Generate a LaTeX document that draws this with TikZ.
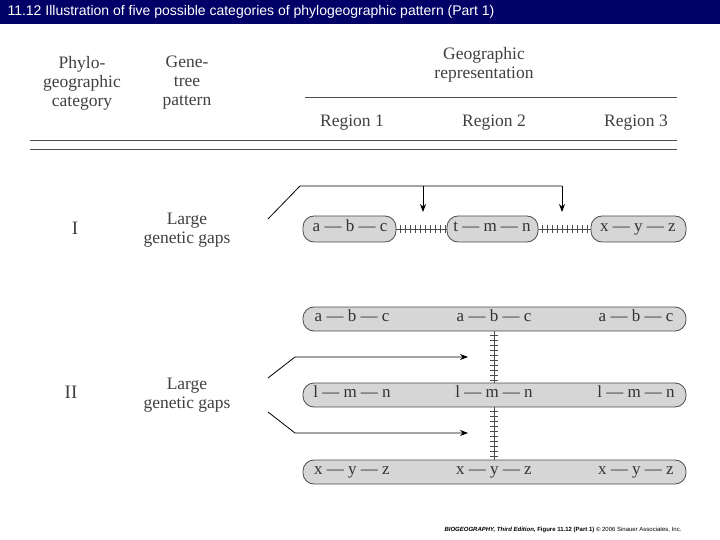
\documentclass[tikz,border=0pt]{standalone}
\usepackage{fontspec}
\setmainfont{Liberation Serif}
\newfontfamily\sansf{Liberation Sans}
\usetikzlibrary{arrows.meta}
\definecolor{navy}{HTML}{000066}
\definecolor{bub}{HTML}{D6D6D6}
\begin{document}
\begin{tikzpicture}[x=1pt,y=-1pt,
  hdr/.style={align=center,font=\fontsize{17.5}{19}\selectfont,text=black!75},
  lab/.style={font=\fontsize{17}{18}\selectfont,text=black!80,text height=1.5ex,text depth=.3ex},
  bubble/.style={draw=black!70,fill=bub,rounded corners=11pt,line width=0.8pt},
  arr/.style={line width=0.8pt,-{Stealth[length=8pt,width=6pt]}},
  ln/.style={line width=0.8pt}]
\useasboundingbox (0,0) rectangle (720,540);
\fill[navy] (0,0) rectangle (720,24);
\node[anchor=west,text=white,font=\sansf\fontsize{14}{15}\selectfont] (title) at (4,12) {11.12 Illustration of five possible categories of phylogeographic pattern (Part 1)};
\node[hdr] (h1) at (82,83) {Phylo-\\geographic\\category};
\node[hdr] (h2) at (187,83) {Gene-\\tree\\pattern};
\node[hdr] (h3) at (484,65) {Geographic\\representation};
\draw[ln,black!70] (305,97) -- (677,97);
\node[hdr] (r1) at (352,123) {Region 1};
\node[hdr] (r2) at (494,123) {Region 2};
\node[hdr] (r3) at (636,123) {Region 3};
\draw[ln,black!70] (30,140) -- (677,140);
\draw[ln,black!70] (30,149) -- (677,149);
% Row I
\node[hdr,font=\fontsize{19}{20}\selectfont] (c1) at (75,228) {I};
\node[hdr] (g1) at (187,230) {Large\\genetic gaps};
\draw[bubble] (303,216) rectangle (396,242);
\draw[bubble] (447,216) rectangle (538,242);
\draw[bubble] (591,216) rectangle (686,242);
\node[lab] (a1) at (350,229) {a — b — c};
\node[lab] (b1) at (492,229) {t — m — n};
\node[lab] (c1b) at (638,229) {x — y — z};
\draw[ln,black!70] (396,229) -- (447,229);
\foreach \x in {400,405,...,445} \draw[black!70] (\x,225) -- (\x,233);
\draw[ln,black!70] (538,229) -- (591,229);
\foreach \x in {542,547,...,589} \draw[black!70] (\x,225) -- (\x,233);
\coordinate (p0) at (268,219);
\coordinate (p1) at (300,186);
\coordinate (t1) at (423,212);
\coordinate (t2) at (562,212);
\draw[ln] (p0) -- (p1) -- (562,186);
\draw[arr] (423,186) -- (t1);
\draw[arr] (562,186) -- (t2);
% Row II
\node[hdr,font=\fontsize{19}{20}\selectfont] (c2) at (71,392) {II};
\node[hdr] (g2) at (187,395) {Large\\genetic gaps};
\foreach \y/\t in {319/{a — b — c},395/{l — m — n},472/{x — y — z}}{
  \draw[bubble] (303,\y-12) rectangle (686,\y+12);
  \node[lab] at (352,\y) {\t};
  \node[lab] at (494,\y) {\t};
  \node[lab] at (636,\y) {\t};
}
\draw[ln,black!70] (494,331) -- (494,383);
\foreach \y in {335,340,...,380} \draw[black!70] (490,\y) -- (498,\y);
\draw[ln,black!70] (494,407) -- (494,460);
\foreach \y in {411,416,...,457} \draw[black!70] (490,\y) -- (498,\y);
\coordinate (q0) at (268,378);
\coordinate (q1) at (295,357);
\coordinate (q2) at (468,357);
\draw[arr] (q0) -- (q1) -- (q2);
\coordinate (s0) at (268,412);
\coordinate (s1) at (295,433);
\coordinate (s2) at (468,433);
\draw[arr] (s0) -- (s1) -- (s2);
\node[anchor=east,font=\sansf\fontsize{6}{7}\selectfont] (foot) at (685,530) {\textbf{\textit{BIOGEOGRAPHY, Third Edition}, Figure 11.12 (Part 1)} © 2006 Sinauer Associates, Inc.};
\end{tikzpicture}
\end{document}
